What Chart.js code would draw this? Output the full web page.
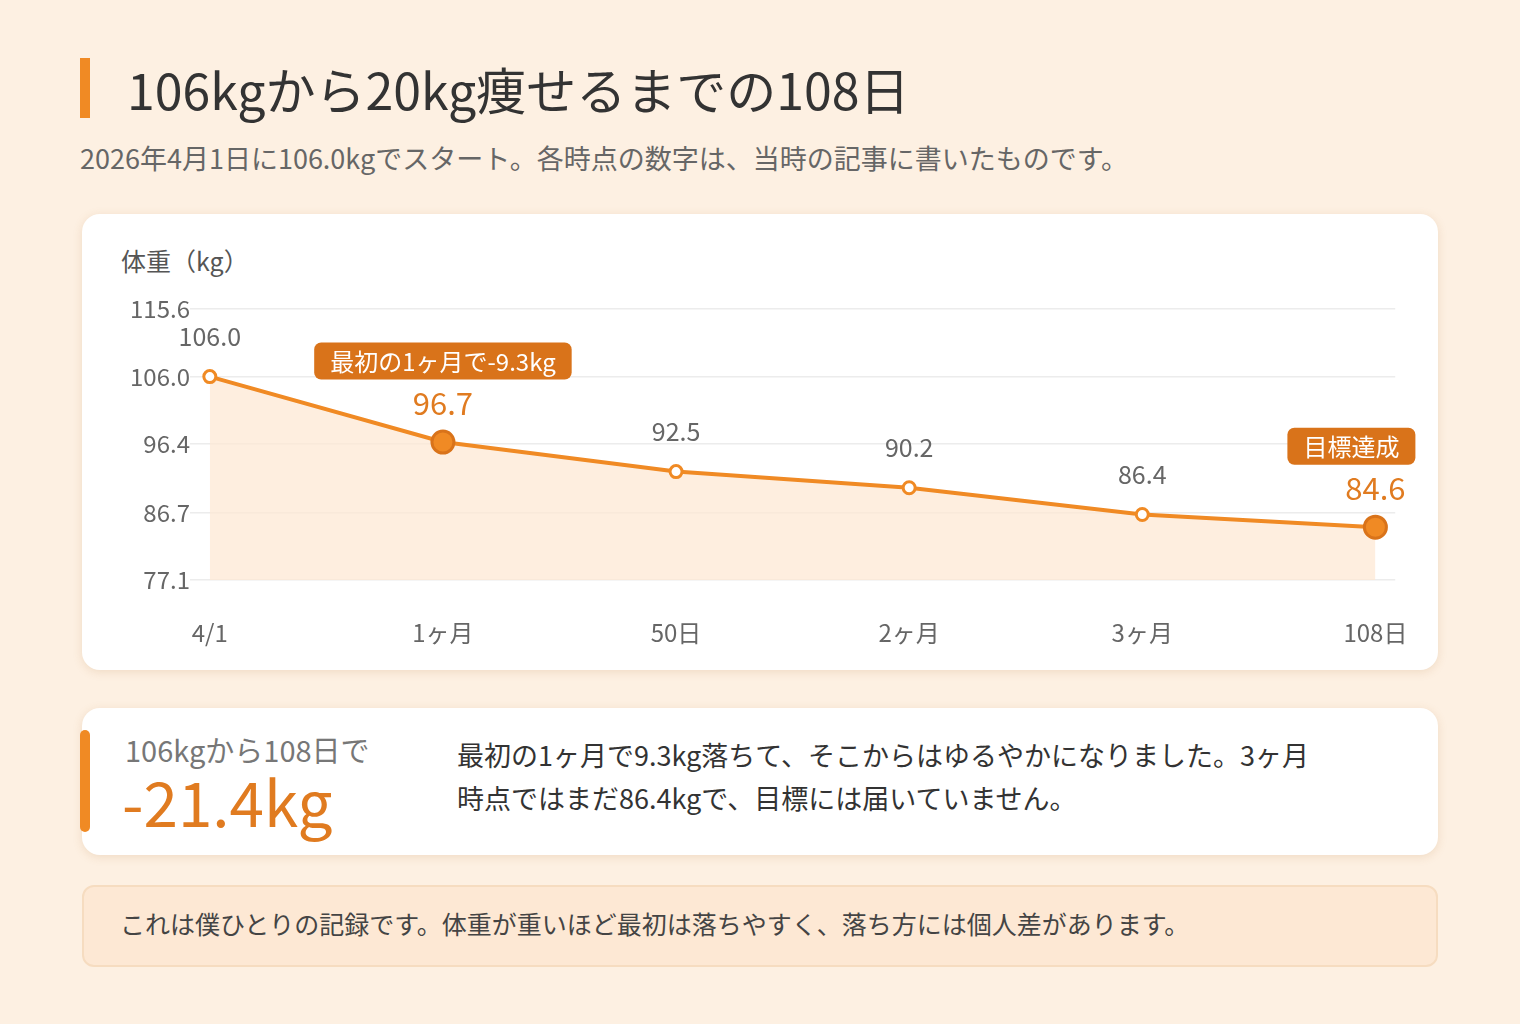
<!DOCTYPE html>
<html><head><meta charset="utf-8">
<script src="https://cdn.jsdelivr.net/npm/chart.js@4.4.0/dist/chart.umd.min.js"></script>
<style>
body{margin:0;width:1520px;height:1024px;background:#fdf0e2;font-family:"Noto Sans CJK JP","Noto Sans",sans-serif;color:#333;position:relative;overflow:hidden}
.abs{position:absolute}
.title{left:80px;top:58px;font-size:50px;line-height:60px;padding-left:37px;border-left:10px solid #f08a24;border-radius:0;color:#333}
.sub{left:80px;top:138px;font-size:27px;color:#666}
.card{background:#fff;border-radius:18px;box-shadow:0 2px 10px rgba(180,120,60,.18);left:82px;width:1356px}
.note{left:82px;top:885px;width:1356px;height:82px;box-sizing:border-box;background:#fde8d4;border:2px solid #f6dcc0;border-radius:12px;font-size:25px;color:#444;padding:18px 36px}
</style></head><body>
<div class="abs title">106kgから20kg痩せるまでの108日</div>
<div class="abs sub">2026年4月1日に106.0kgでスタート。各時点の数字は、当時の記事に書いたものです。</div>
<div class="abs card" style="top:214px;height:456px">
  <div class="abs" style="left:39px;top:28px;font-size:25px;color:#555">体重（kg）</div>
  <canvas id="c" width="1356" height="456" style="position:absolute;left:0;top:0"></canvas>
</div>
<div class="abs card" style="top:708px;height:147px"></div>
<div class="abs" style="left:80px;top:730px;width:10px;height:102px;background:#f08a24;border-radius:5px"></div>
<div class="abs" style="left:125px;top:728px;font-size:29px;color:#777">106kgから108日で</div>
<div class="abs" style="left:122px;top:764px;font-size:62px;color:#e07b20;line-height:72px">-21.4kg</div>
<div class="abs" style="left:457px;top:733px;font-size:27px;line-height:43px;color:#333;width:950px">最初の1ヶ月で9.3kg落ちて、そこからはゆるやかになりました。3ヶ月<br>時点ではまだ86.4kgで、目標には届いていません。</div>
<div class="abs note">これは僕ひとりの記録です。体重が重いほど最初は落ちやすく、落ち方には個人差があります。</div>
<script>
var labels = ['4/1', '1ヶ月', '50日', '2ヶ月', '3ヶ月', '108日'];
var weights = [106.0, 96.7, 92.5, 90.2, 86.4, 84.6];
var highlight = [false, true, false, false, false, true];
var yTicks = [77.1, 86.7, 96.4, 106.0, 115.6];
var badges = [{i: 1, text: '最初の1ヶ月で-9.3kg'}, {i: 5, text: '目標達成'}];

var orange = '#f08a24', dark = '#d9731a';
var font = '"Noto Sans CJK JP","Noto Sans",sans-serif';

var labelPlugin = {
  id: 'labels',
  afterDatasetsDraw: function(chart) {
    var ctx = chart.ctx, xs = chart.scales.x, ys = chart.scales.y;
    ctx.save();
    ctx.textAlign = 'center'; ctx.textBaseline = 'middle';
    weights.forEach(function(v, i) {
      var x = xs.getPixelForValue(i), y = ys.getPixelForValue(v);
      if (highlight[i]) { ctx.font = '31px ' + font; ctx.fillStyle = '#e07b20'; }
      else { ctx.font = '25px ' + font; ctx.fillStyle = '#666'; }
      ctx.fillText(v.toFixed(1), x, y - (highlight[i] ? 39 : 40));
    });
    badges.forEach(function(b) {
      var x = xs.getPixelForValue(b.i), y = ys.getPixelForValue(weights[b.i]);
      ctx.font = '24px ' + font;
      var w = ctx.measureText(b.text).width + 32, h = 37;
      var cx = b.i === 1 ? x : x - 24, cy = y - 81;
      ctx.fillStyle = dark;
      ctx.beginPath(); ctx.roundRect(cx - w / 2, cy - h / 2, w, h, 7); ctx.fill();
      ctx.fillStyle = '#fff';
      ctx.fillText(b.text, cx, cy + 1);
    });
    ctx.restore();
  }
};

new Chart(document.getElementById('c'), {
  type: 'line',
  data: {
    datasets: [{
      data: weights.map(function(v, i) { return {x: i, y: v}; }),
      borderColor: orange, borderWidth: 4,
      backgroundColor: 'rgba(253,232,212,0.75)', fill: 'start',
      pointRadius: weights.map(function(v, i) { return highlight[i] ? 11 : 6; }),
      pointBackgroundColor: weights.map(function(v, i) { return highlight[i] ? orange : '#fff'; }),
      pointBorderColor: weights.map(function(v, i) { return highlight[i] ? dark : orange; }),
      pointBorderWidth: 3, tension: 0
    }]
  },
  options: {
    responsive: false, animation: false,
    layout: {padding: {top: 95, right: 38, left: 0, bottom: 0}},
    plugins: {legend: {display: false}, tooltip: {enabled: false}},
    scales: {
      x: {
        type: 'linear', min: -0.085, max: 5.085,
        afterBuildTicks: function(s) { s.ticks = labels.map(function(l, i) { return {value: i}; }); },
        afterFit: function(s) { s.height = 90; },
        grid: {display: false}, border: {display: false},
        ticks: {padding: 30, color: '#666', font: {size: 24, family: font},
          callback: function(v) { return labels[v]; }}
      },
      y: {
        min: 77.1, max: 115.6,
        afterBuildTicks: function(s) { s.ticks = yTicks.map(function(v) { return {value: v}; }); },
        afterFit: function(s) { s.width = 108; },
        grid: {color: '#ececec', lineWidth: 1.5, drawTicks: false}, border: {display: false},
        ticks: {padding: 0, color: '#666', font: {size: 24, family: font},
          callback: function(v) { return v.toFixed(1); }}
      }
    }
  },
  plugins: [labelPlugin]
});
</script>
</body></html>
